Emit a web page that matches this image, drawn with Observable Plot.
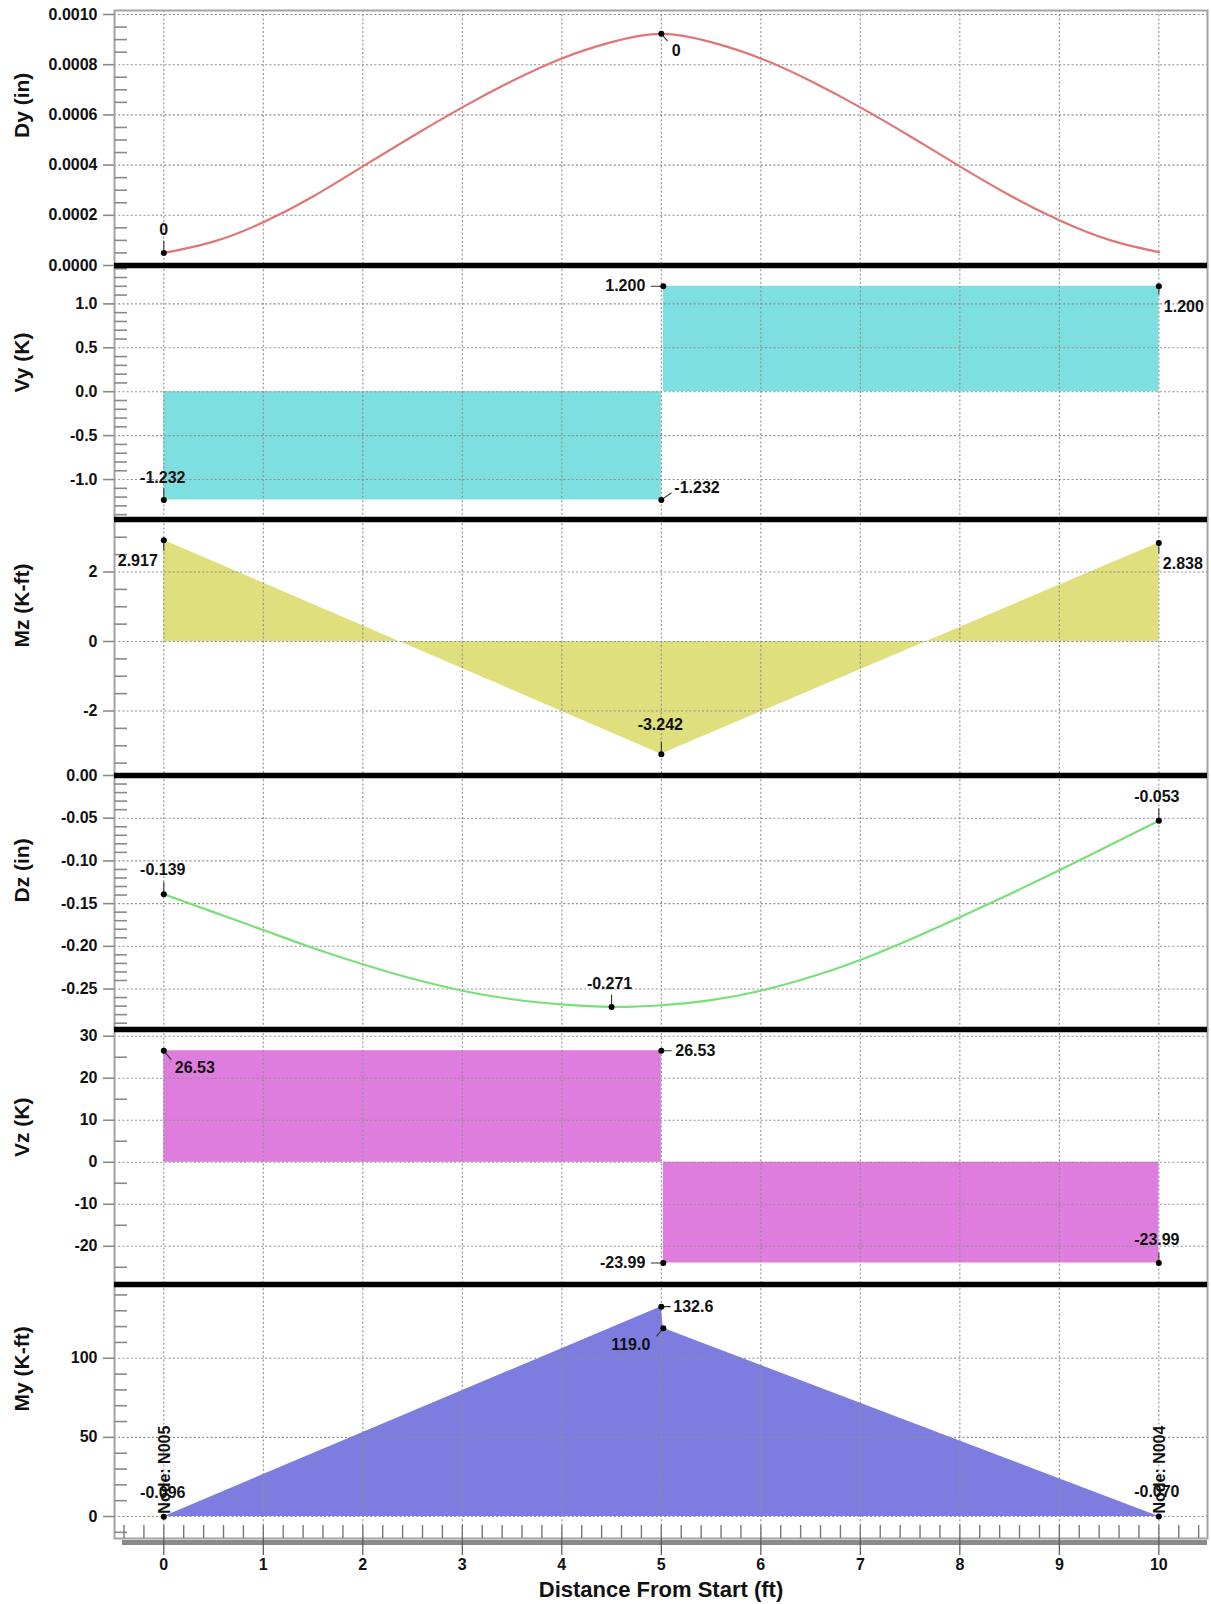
<!DOCTYPE html>
<html><head><meta charset="utf-8">
<script src="https://cdn.jsdelivr.net/npm/d3@7"></script>
<script src="https://cdn.jsdelivr.net/npm/@observablehq/plot@0.6"></script>
<style>
body{margin:0;background:#fff;}
#chart{position:relative;width:1211px;height:1604px;overflow:hidden;background:#fff;}
#chart svg{position:absolute;left:0;}
</style></head><body><div id="chart"></div>
<script>
// ---------- data ----------
const xTicks = [0,1,2,3,4,5,6,7,8,9,10];

// Dy (in) deflection
const dyX = [0,0.5,1,1.5,2,2.5,3,3.5,4,4.5,5,5.5,6,6.5,7,7.5,8,8.5,9,9.5,10];
const dyV = [0.000050,0.000095,0.000172,0.000275,0.000395,0.000515,0.000630,0.000735,0.000825,0.000890,0.000923,0.000890,0.000825,0.000735,0.000630,0.000515,0.000395,0.000280,0.000180,0.000102,0.000053];
const dyTicks = [0,0.0002,0.0004,0.0006,0.0008,0.0010];
const dyLabels = ["0","0"];

// Vy (K) shear
const vyX = [0,5,5.02,10];
const vyV = [-1.232,-1.232,1.200,1.200];
const vySeg = [0,0,1,1];
const vyTicks = [-1.0,-0.5,0.0,0.5,1.0];
const vyLabels = ["-1.232","-1.232","1.200","1.200"];

// Mz (K-ft) moment
const mzX = [0,5,10];
const mzV = [2.917,-3.242,2.838];
const mzTicks = [-2,0,2];
const mzLabels = ["2.917","-3.242","2.838"];

// Dz (in) deflection
const dzX = [0,0.5,1,1.5,2,2.5,3,3.5,4,4.5,5,5.5,6,6.5,7,7.5,8,8.5,9,9.5,10];
const dzV = [-0.139,-0.160,-0.181,-0.202,-0.221,-0.238,-0.252,-0.262,-0.268,-0.271,-0.269,-0.263,-0.252,-0.236,-0.216,-0.192,-0.166,-0.139,-0.111,-0.082,-0.053];
const dzTicks = [0,-0.05,-0.10,-0.15,-0.20,-0.25];
const dzLabels = ["-0.139","-0.271","-0.053"];

// Vz (K) shear
const vzX = [0,5,5.02,10];
const vzV = [26.53,26.53,-23.99,-23.99];
const vzSeg = [0,0,1,1];
const vzTicks = [-20,-10,0,10,20,30];
const vzLabels = ["26.53","26.53","-23.99","-23.99"];

// My (K-ft) moment
const myX = [0,5,5.02,10];
const myV = [-0.096,132.6,119.0,-0.070];
const myTicks = [0,50,100];
const myLabels = ["-0.096","132.6","119.0","-0.070"];
const nodeLabels = ["Node: N005","Node: N004"];

const titles = ["Dy (in)","Vy (K)","Mz (K-ft)","Dz (in)","Vz (K)","My (K-ft)"];
const xTitle = "Distance From Start (ft)";

// ---------- layout ----------
const FONT = "'Liberation Sans', Arial, Helvetica, sans-serif";
const W = 1211, ML = 114, MR = 4, PW = W - ML - MR;
const xDomain = [-0.4955, 10.489];
const GRID = "#8e8e8e";

const rows = (xs, vs, segs) => xs.map((x, i) => ({x, v: vs[i], seg: segs ? segs[i] : 0}));
const near = (a, list, eps) => list.some(b => Math.abs(a - b) < eps);
function minorTicks(lo, hi, step, majors) {
  const out = [];
  for (let k = Math.ceil(lo / step - 1e-9); k * step <= hi + 1e-12; k++) {
    const v = +(k * step).toFixed(8);
    if (!near(v, majors, step / 10)) out.push(v);
  }
  return out;
}

function pt(x, y, text, o = {}) {
  const d = [{x, y, text}];
  const ms = [];
  if (o.ll) ms.push(Plot.vector(d, {x: "x", y: "y", rotate: o.lr || 0, length: o.ll, anchor: "start", r: 0, stroke: "#333", strokeWidth: 1.1}));
  if (!o.nodot) ms.push(Plot.dot(d, {x: "x", y: "y", r: 3, fill: "#000"}));
  if (text) ms.push(Plot.text(d, {x: "x", y: "y", text: "text", dx: o.dx || 0, dy: o.dy || 0,
    textAnchor: o.anchor || "middle", fontSize: 16, fontWeight: "bold", fill: "#111", rotate: o.rotate || 0}));
  return ms;
}

const chart = document.getElementById("chart");

function panel(cfg) {
  const {top, bottom, yDomain, majors, minorStep, fmt, title, fills = [], over = [], first, last} = cfg;
  const mt = 4, mb = last ? 66 : 4;
  const PH = bottom - top;
  const H = PH + mt + mb;
  const minors = minorTicks(yDomain[0], yDomain[1], minorStep, majors);
  const marks = [
    ...fills,
    Plot.ruleX(xTicks, {x: d => d, stroke: GRID, strokeDasharray: "2,2.2", strokeWidth: 1.1}),
    Plot.ruleY(majors, {y: d => d, stroke: GRID, strokeDasharray: "2,2.2", strokeWidth: 1.1}),
    Plot.frame({stroke: "#a3a3a3", strokeWidth: 2}),
    Plot.tickY(minors, {y: d => d, insetRight: PW - 13, stroke: "#8a8a8a", strokeWidth: 1.6}),
    Plot.tickY(majors, {y: d => d, insetLeft: -11, insetRight: PW, stroke: "#8a8a8a", strokeWidth: 1.6}),
    Plot.text(majors, {y: d => d, frameAnchor: "left", dx: -17, textAnchor: "end", text: fmt,
      fontSize: 16, fontWeight: "bold", fill: "#111"}),
    Plot.text([title], {frameAnchor: "left", dx: -92, rotate: -90, text: d => d,
      fontSize: 21, fontWeight: "bold", fill: "#111"}),
    ...over
  ];
  if (!first) marks.push(Plot.ruleY([yDomain[1]], {y: d => d, stroke: "#000", strokeWidth: 5.5}));
  if (last) {
    const xMinor = minorTicks(-0.4, 10.4, 0.2, []);
    marks.push(
      Plot.tickX(xMinor, {x: d => d, insetTop: PH - 13, stroke: "#777", strokeWidth: 1.4}),
      Plot.ruleY([yDomain[0]], {y: d => d, dy: 4, stroke: "#8a8a8a", strokeWidth: 5, insetLeft: 8}),
      Plot.tickX(xTicks, {x: d => d, insetTop: PH, insetBottom: -17, stroke: "#555", strokeWidth: 1.2}),
      Plot.text(xTicks, {x: d => d, frameAnchor: "bottom", dy: 31, text: d => String(d),
        fontSize: 16, fontWeight: "bold", fill: "#111"}),
      Plot.text([xTitle], {frameAnchor: "bottom", dy: 58, text: d => d, fontSize: 22, fontWeight: "bold", fill: "#111"})
    );
  }
  const svg = Plot.plot({
    width: W, height: H, marginLeft: ML, marginRight: MR, marginTop: mt, marginBottom: mb,
    x: {domain: xDomain, axis: null},
    y: {domain: yDomain, axis: null},
    style: {fontFamily: FONT, background: "transparent", overflow: "visible"},
    marks
  });
  svg.style.top = (top - mt) + "px";
  chart.appendChild(svg);
}

// Dy
const dyRows = rows(dyX, dyV);
const dyPeak = dyV.indexOf(Math.max(...dyV));
panel({
  top: 10, bottom: 265, yDomain: [0, 0.0010159], majors: dyTicks, minorStep: 0.00005,
  fmt: d => d.toFixed(4), title: titles[0], first: true,
  over: [
    Plot.lineY(dyRows, {x: "x", y: "v", stroke: "#e07575", strokeWidth: 2.2, curve: "natural"}),
    ...pt(dyX[0], dyV[0], dyLabels[0], {dy: -23, lr: 0, ll: 12}),
    ...pt(dyX[dyPeak], dyV[dyPeak], dyLabels[1], {dx: 15, dy: 17, lr: 140, ll: 9})
  ]
});

// Vy
panel({
  top: 265, bottom: 519, yDomain: [-1.455, 1.437], majors: vyTicks, minorStep: 0.1,
  fmt: d => d.toFixed(1), title: titles[1],
  fills: [Plot.areaY(rows(vyX, vyV, vySeg), {x: "x", y: "v", z: "seg", fill: "#7ddfdf"})],
  over: [
    ...pt(vyX[0], vyV[0], vyLabels[0], {dx: -1, dy: -22, lr: 0, ll: 11}),
    ...pt(vyX[1], vyV[1], vyLabels[1], {dx: 13, dy: -12, anchor: "start", lr: 55, ll: 12}),
    ...pt(vyX[2], vyV[2], vyLabels[2], {dx: -18, dy: 0, anchor: "end", lr: 270, ll: 12}),
    ...pt(vyX[3], vyV[3], vyLabels[3], {dx: 5, dy: 21, anchor: "start", lr: 180, ll: 8})
  ]
});

// Mz
panel({
  top: 519, bottom: 775, yDomain: [-3.856, 3.511], majors: mzTicks, minorStep: 0.5,
  fmt: d => String(d), title: titles[2],
  fills: [Plot.areaY(rows(mzX, mzV), {x: "x", y: "v", fill: "#dfdf7d"})],
  over: [
    ...pt(mzX[0], mzV[0], mzLabels[0], {dx: -6, dy: 21, anchor: "end", lr: 180, ll: 10}),
    ...pt(mzX[1], mzV[1], mzLabels[1], {dx: -1, dy: -29, lr: 0, ll: 12}),
    ...pt(mzX[2], mzV[2], mzLabels[2], {dx: 4, dy: 21, anchor: "start", lr: 180, ll: 10})
  ]
});

// Dz
const dzRows = rows(dzX, dzV);
const dzMin = dzV.indexOf(Math.min(...dzV));
panel({
  top: 775, bottom: 1029, yDomain: [-0.2974, 0], majors: dzTicks, minorStep: 0.01,
  fmt: d => d.toFixed(2), title: titles[3],
  over: [
    Plot.lineY(dzRows, {x: "x", y: "v", stroke: "#78e078", strokeWidth: 2.2, curve: "natural"}),
    ...pt(dzX[0], dzV[0], dzLabels[0], {dx: -1, dy: -24, lr: 0, ll: 12}),
    ...pt(dzX[dzMin], dzV[dzMin], dzLabels[1], {dx: -2, dy: -23, lr: 0, ll: 12}),
    ...pt(dzX[dzX.length - 1], dzV[dzV.length - 1], dzLabels[2], {dx: -2, dy: -24, lr: 0, ll: 12})
  ]
});

// Vz
panel({
  top: 1029, bottom: 1284, yDomain: [-29.1, 31.6], majors: vzTicks, minorStep: 5,
  fmt: d => String(d), title: titles[4],
  fills: [Plot.areaY(rows(vzX, vzV, vzSeg), {x: "x", y: "v", z: "seg", fill: "#df7ddf"})],
  over: [
    ...pt(vzX[0], vzV[0], vzLabels[0], {dx: 11, dy: 17, anchor: "start", lr: 140, ll: 11}),
    ...pt(vzX[1], vzV[1], vzLabels[1], {dx: 14, dy: 0, anchor: "start", lr: 90, ll: 10}),
    ...pt(vzX[2], vzV[2], vzLabels[2], {dx: -18, dy: 0, anchor: "end", lr: 270, ll: 12}),
    ...pt(vzX[3], vzV[3], vzLabels[3], {dx: -2, dy: -23, lr: 0, ll: 10})
  ]
});

// My
panel({
  top: 1284, bottom: 1538, yDomain: [-13.9, 146.6], majors: myTicks, minorStep: 10,
  fmt: d => String(d), title: titles[5], last: true,
  fills: [Plot.areaY(rows(myX, myV), {x: "x", y: "v", fill: "#7d7ddf"})],
  over: [
    ...pt(myX[0], myV[0], nodeLabels[0], {dx: 1, dy: -3, anchor: "start", rotate: -90, nodot: true}),
    ...pt(myX[3], myV[3], nodeLabels[1], {dx: 1, dy: -3, anchor: "start", rotate: -90, nodot: true}),
    ...pt(myX[0], myV[0], myLabels[0], {dx: -1, dy: -24}),
    ...pt(myX[1], myV[1], myLabels[1], {dx: 12, dy: 0, anchor: "start", lr: 90, ll: 9}),
    ...pt(myX[2], myV[2], myLabels[2], {dx: -13, dy: 17, anchor: "end", lr: 220, ll: 10}),
    ...pt(myX[3], myV[3], myLabels[3], {dx: -2, dy: -25})
  ]
});
</script></body></html>
